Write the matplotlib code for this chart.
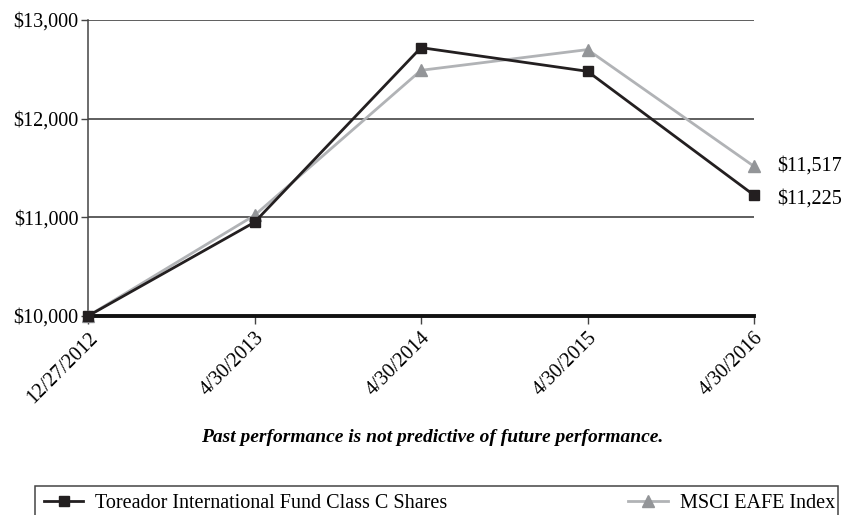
import matplotlib.pyplot as plt
from matplotlib.patches import Rectangle

# growth of a hypothetical $10,000 investment
fechas = ["12/27/2012", "4/30/2013", "4/30/2014", "4/30/2015", "4/30/2016"]
fondo = [10000, 10950, 12720, 12480, 11225]
indice = [10000, 11020, 12490, 12700, 11517]
nombre_fondo = "Toreador International Fund Class C Shares"
nombre_indice = "MSCI EAFE Index"
niveles_y = [10000, 11000, 12000, 13000]

plt.rcParams['font.family'] = ['Liberation Serif', 'DejaVu Serif']

color_fondo = "#231f20"
color_indice = "#b1b3b6"
color_tri = "#939598"
tam = 14.5


def graficar():
    fig = plt.figure(figsize=(8.48, 5.15), dpi=100)
    ax = fig.add_axes([88 / 848, 1 - 316 / 515, 666 / 848, 296 / 515])

    x = list(range(len(fechas)))
    ax.plot(x, indice, color=color_indice, lw=2, marker="^", ms=9,
            mfc=color_tri, mec=color_tri, clip_on=False, zorder=3,
            label=nombre_indice)
    ax.plot(x, fondo, color=color_fondo, lw=2, marker="s", ms=7.5,
            mfc=color_fondo, mec=color_fondo, clip_on=False, zorder=4,
            label=nombre_fondo)

    ax.set_xlim(0, len(fechas) - 1)
    ax.set_ylim(niveles_y[0], niveles_y[-1])
    ax.set_yticks(niveles_y)
    ax.set_yticklabels(["${:,}".format(v) for v in niveles_y], fontsize=tam)
    ax.set_xticks(x)
    ax.set_xticklabels(fechas, rotation=45, ha="right", rotation_mode="anchor",
                       fontsize=tam)

    for v in niveles_y[1:]:
        ax.axhline(v, color="#333333", lw=1.1, zorder=1)

    for s in ["top", "right"]:
        ax.spines[s].set_visible(False)
    ax.spines["left"].set_color("#444444")
    ax.spines["left"].set_linewidth(1.1)
    ax.spines["bottom"].set_color("#111111")
    ax.spines["bottom"].set_linewidth(2.8)
    ax.tick_params(axis="y", length=5, width=1, color="#444444", pad=2)
    ax.tick_params(axis="x", length=6, width=1, color="#444444", pad=3)

    # end values beside the last points
    ax.annotate("${:,}".format(indice[-1]), (x[-1], indice[-1]),
                xytext=(17, 0), textcoords="offset points", va="center",
                ha="left", fontsize=tam, annotation_clip=False)
    ax.annotate("${:,}".format(fondo[-1]), (x[-1], fondo[-1]),
                xytext=(17, -3), textcoords="offset points", va="center",
                ha="left", fontsize=tam, annotation_clip=False)

    fig.text(0.51, 1 - 438 / 515,
             "Past performance is not predictive of future performance.",
             ha="center", va="center", fontsize=14, style="italic",
             weight="bold")

    # legend box running past the bottom edge
    fig.patches.append(Rectangle((35 / 848, -0.05), 803 / 848, 0.05 + 29 / 515,
                                 transform=fig.transFigure, fill=False,
                                 edgecolor="#444444", lw=1.1))
    h, l = ax.get_legend_handles_labels()
    y_ley = 1 - 503 / 515
    fig.legend([h[1]], [l[1]], loc="center left",
               bbox_to_anchor=(36 / 848, y_ley), frameon=False, fontsize=tam,
               handlelength=1.95, handletextpad=0.6, borderaxespad=0)
    fig.legend([h[0]], [l[0]], loc="center right",
               bbox_to_anchor=(843 / 848, y_ley), frameon=False, fontsize=tam,
               handlelength=1.95, handletextpad=0.6, borderaxespad=0)

    fig.savefig("out.png", dpi=100)


def main():
    graficar()


if __name__ == "__main__":
    main()
